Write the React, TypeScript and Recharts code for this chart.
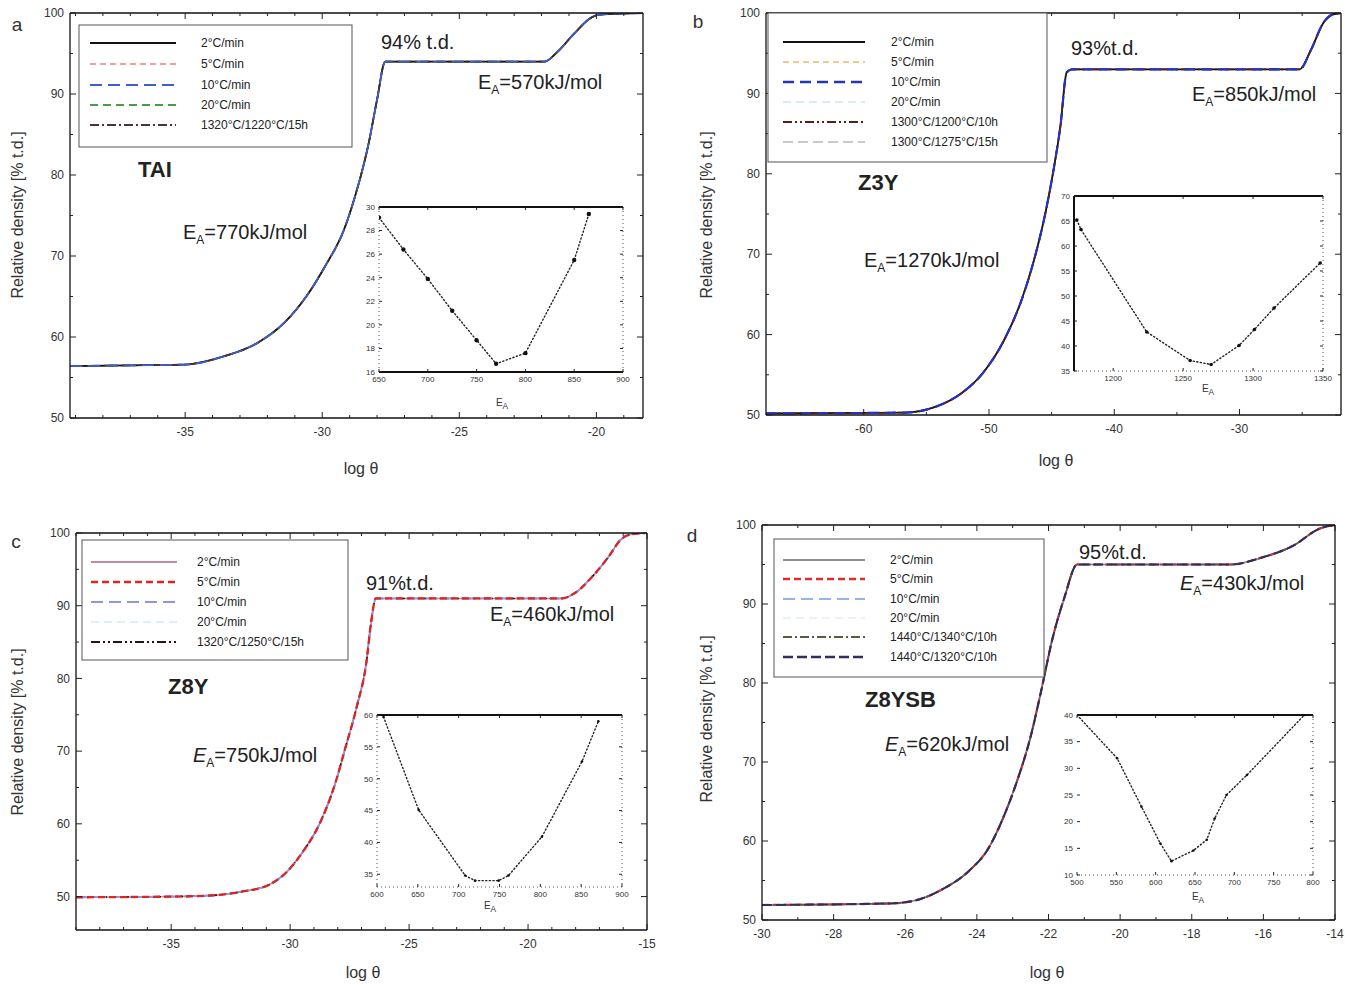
import React from "react";
import { LineChart, Line, XAxis, YAxis } from "recharts";

const FONT = '"Liberation Sans", Arial, Helvetica, sans-serif';

// ---- a: TAI master curve ----
const taiPlateau = 94;
const taiEa = [770, 570];
const taiLogTheta = [-39.2, -37, -35, -33.6, -32.35, -31.4, -30.5, -29.9, -29.2, -28.8, -28.3, -28.0, -27.7, -21.9, -21.45, -20.8, -20.2, -19.9, -18.3];
const taiDensity = [56.4, 56.5, 56.6, 57.6, 59.3, 61.7, 65.4, 68.7, 73.3, 77.4, 84, 89.3, taiPlateau, taiPlateau, 95.1, 97.5, 99.4, 99.8, 100];
const taiLegend = ["2°C/min", "5°C/min", "10°C/min", "20°C/min", "1320°C/1220°C/15h"];
const taiFitEa = [650, 675, 700, 725, 750, 770, 800, 850, 865];
const taiFitErr = [29.1, 26.4, 23.9, 21.2, 18.7, 16.7, 17.6, 25.5, 29.4];

// ---- b: Z3Y master curve ----
const z3yPlateau = 93;
const z3yEa = [1270, 850];
const z3yLogTheta = [-67.8, -56.7, -54.3, -52.2, -50.5, -48.8, -47.4, -46.4, -45.5, -44.8, -44.3, -43.8, -43.4, -25.2, -24.3, -23.3, -22.6, -21.9];
const z3yDensity = [50.2, 50.3, 51, 52.7, 55.2, 59.3, 64.3, 69.3, 75.1, 80.9, 85.9, 92.6, z3yPlateau, z3yPlateau, 95.4, 98.8, 99.8, 100];
const z3yLegend = ["2°C/min", "5°C/min", "10°C/min", "20°C/min", "1300°C/1200°C/10h", "1300°C/1275°C/15h"];
const z3yFitEa = [1174, 1177, 1224, 1255, 1270, 1290, 1301, 1315, 1348];
const z3yFitErr = [65.2, 63.3, 42.8, 37.1, 36.3, 40.1, 43.3, 47.6, 56.6];

// ---- c: Z8Y master curve ----
const z8yPlateau = 91;
const z8yEa = [750, 460];
const z8yLogTheta = [-39, -34.9, -33.1, -32, -30.9, -30.2, -29.5, -28.75, -28.1, -27.7, -27.2, -26.8, -26.6, -26.4, -18.6, -18.05, -17.3, -16.6, -16.1, -15.7, -15.07];
const z8yDensity = [49.9, 50, 50.2, 50.7, 51.6, 53.2, 56, 60.1, 65.6, 70.2, 76.1, 82.1, 87.6, z8yPlateau, z8yPlateau, 91.7, 94, 96.8, 99.1, 99.8, 100];
const z8yLegend = ["2°C/min", "5°C/min", "10°C/min", "20°C/min", "1320°C/1250°C/15h"];
const z8yFitEa = [608, 651, 708, 720, 749, 761, 802, 851, 871];
const z8yFitErr = [59.7, 45.1, 34.8, 34.0, 34.0, 34.8, 40.9, 52.7, 59.0];

// ---- d: Z8YSB master curve ----
const z8ysbPlateau = 95;
const z8ysbEa = [620, 430];
const z8ysbLogTheta = [-30, -26.4, -25.7, -25, -24.2, -23.7, -23.25, -22.9, -22.5, -22.2, -21.9, -21.55, -21.2, -16.9, -16.1, -15.2, -14.4, -14];
const z8ysbDensity = [51.9, 52.1, 52.5, 53.8, 56.3, 58.9, 63.1, 67.3, 73.2, 79.1, 85.4, 90.9, z8ysbPlateau, z8ysbPlateau, 95.8, 97.3, 99.6, 100];
const z8ysbLegend = ["2°C/min", "5°C/min", "10°C/min", "20°C/min", "1440°C/1340°C/10h", "1440°C/1320°C/10h"];
const z8ysbFitEa = [500, 551, 582, 606, 620, 648, 665, 675, 690, 716, 789];
const z8ysbFitErr = [40, 31.9, 22.8, 15.9, 12.6, 14.6, 16.6, 20.6, 25, 28.75, 40];

// ---- axis ticks ----
const densityMajor = [50, 60, 70, 80, 90, 100];
const densityTicks = [50, 55, 60, 65, 70, 75, 80, 85, 90, 95, 100];
const taiXMajor = [-35, -30, -25, -20];
const taiXTicks = [-39, -38, -37, -36, -35, -34, -33, -32, -31, -30, -29, -28, -27, -26, -25, -24, -23, -22, -21, -20, -19];
const z3yXMajor = [-60, -50, -40, -30];
const z3yXTicks = [-65, -60, -55, -50, -45, -40, -35, -30, -25];
const z8yXMajor = [-35, -30, -25, -20, -15];
const z8yXTicks = [-39, -38, -37, -36, -35, -34, -33, -32, -31, -30, -29, -28, -27, -26, -25, -24, -23, -22, -21, -20, -19, -18, -17, -16, -15];
const z8ysbXMajor = [-30, -28, -26, -24, -22, -20, -18, -16, -14];
const z8ysbXTicks = [-30, -29, -28, -27, -26, -25, -24, -23, -22, -21, -20, -19, -18, -17, -16, -15, -14];

const taiInsetX = [650, 700, 750, 800, 850, 900];
const taiInsetY = [16, 18, 20, 22, 24, 26, 28, 30];
const z3yInsetX = [1200, 1250, 1300, 1350];
const z3yInsetY = [35, 40, 45, 50, 55, 60, 65, 70];
const z8yInsetX = [600, 650, 700, 750, 800, 850, 900];
const z8yInsetY = [35, 40, 45, 50, 55, 60];
const z8ysbInsetX = [500, 550, 600, 650, 700, 750, 800];
const z8ysbInsetY = [10, 15, 20, 25, 30, 35, 40];

const toPoints = (xs: number[], ys: number[]) => xs.map((x, i) => ({ x, y: ys[i] }));

type Trace = { color: string; width: number; dash?: string };
type Box = { left: number; top: number; right: number; bottom: number };
type Edge = { stroke: string; width: number; dash?: string } | null;

const solid: Edge = { stroke: "#111", width: 1.3 };
const heavy: Edge = { stroke: "#111", width: 2 };
const dotted: Edge = { stroke: "#555", width: 1, dash: "1 3" };

const taiStyles: Trace[] = [
  { color: "#111111", width: 1.8 },
  { color: "#f0a0a0", width: 1.6, dash: "6 4" },
  { color: "#3f5fc8", width: 1.8, dash: "12 6" },
  { color: "#4d9a4d", width: 1.6, dash: "8 5" },
  { color: "#4a3434", width: 1.7, dash: "9 3 2 3" },
];
const z3yStyles: Trace[] = [
  { color: "#111111", width: 1.8 },
  { color: "#f3c88e", width: 1.5, dash: "6 4" },
  { color: "#2434c0", width: 2.2, dash: "11 6" },
  { color: "#cfe6f2", width: 1.4, dash: "8 5" },
  { color: "#5a1c1c", width: 1.8, dash: "9 3 2 3 2 3" },
  { color: "#b8b8b8", width: 1.4, dash: "10 5" },
];
const z8yStyles: Trace[] = [
  { color: "#c48aa8", width: 1.6 },
  { color: "#e02424", width: 2.3, dash: "7 4" },
  { color: "#8f95e0", width: 1.8, dash: "12 6" },
  { color: "#d4eaf2", width: 1.4, dash: "8 5" },
  { color: "#2a1212", width: 1.6, dash: "9 3 2 3 2 3" },
];
const z8ysbStyles: Trace[] = [
  { color: "#8e8e8e", width: 1.6 },
  { color: "#e02c2c", width: 2.2, dash: "7 4" },
  { color: "#94b4e4", width: 1.6, dash: "12 6" },
  { color: "#e2f0f0", width: 1.3, dash: "8 5" },
  { color: "#5e5a40", width: 1.6, dash: "9 3 2 3" },
  { color: "#2e2e62", width: 2, dash: "10 4" },
];

// stacking order of the overlapping rate curves (last one ends up on top)
const taiOrder = [1, 3, 0, 4, 2];
const z3yOrder = [3, 5, 1, 0, 4, 2];
const z8yOrder = [3, 0, 4, 2, 1];
const z8ysbOrder = [3, 2, 0, 1, 4, 5];

// inward tick with optional label; tickSize is 0 so the axis line sits `gap` away from the label anchor
function InTick(props: any) {
  const { x, y, payload, side, majors, len, fontSize, gap, label } = props;
  const v = payload?.value;
  const major = majors.some((m: number) => Math.abs(m - v) < 1e-6);
  const L = major ? len : len * 0.5;
  let line = null;
  let text = null;
  const ts = { fontSize, fontFamily: FONT, fill: "#333" };
  if (side === "bottom") {
    const ay = y - gap;
    line = <line x1={x} x2={x} y1={ay} y2={ay - L} />;
    if (label && major)
      text = <text x={x} y={y} dy="0.8em" textAnchor="middle" stroke="none" style={ts}>{v}</text>;
  } else if (side === "top") {
    const ay = y + gap;
    line = <line x1={x} x2={x} y1={ay} y2={ay + L} />;
  } else if (side === "left") {
    const ax = x + gap;
    line = <line x1={ax} x2={ax + L} y1={y} y2={y} />;
    if (label && major)
      text = <text x={x} y={y} dy="0.35em" textAnchor="end" stroke="none" style={ts}>{v}</text>;
  } else {
    const ax = x - gap;
    line = <line x1={ax} x2={ax - L} y1={y} y2={y} />;
  }
  return (
    <g>
      <g stroke="#222" strokeWidth={1}>{line}</g>
      {text}
    </g>
  );
}

type FrameProps = {
  box: Box;
  data: { x: number; y: number }[];
  xDomain: [number, number];
  yDomain: [number, number];
  xTicks: number[];
  yTicks: number[];
  xMajor: number[];
  yMajor: number[];
  fontSize: number;
  tickLen: number;
  padLeft: number;
  padBottom: number;
  gapX: number;
  gapY: number;
  edges: { top: Edge; right: Edge; bottom: Edge; left: Edge };
  children: React.ReactNode;
};

const axisLine = (e: Edge) =>
  e ? { stroke: e.stroke, strokeWidth: e.width, strokeDasharray: e.dash } : false;

const M_TOP = 10;
const M_RIGHT = 14;

function Frame(p: FrameProps) {
  const w = p.box.right - p.box.left;
  const h = p.box.bottom - p.box.top;
  const tick = (side: string, majors: number[], gap: number, label: boolean) => (
    <InTick side={side} majors={majors} len={p.tickLen} fontSize={p.fontSize} gap={gap} label={label} />
  );
  return (
    <div style={{ position: "absolute", left: p.box.left - p.padLeft - 2, top: p.box.top - M_TOP - 1 }}>
      <LineChart
        width={w + p.padLeft + 3 + M_RIGHT}
        height={h + p.padBottom + M_TOP + 3}
        data={p.data}
        margin={{ top: M_TOP, right: M_RIGHT, bottom: 2, left: 2 }}
      >
        <XAxis xAxisId="b" orientation="bottom" type="number" dataKey="x" domain={p.xDomain}
          allowDataOverflow ticks={p.xTicks} interval={0} height={p.padBottom} tickSize={0}
          tickMargin={p.gapX} tickLine={false} axisLine={axisLine(p.edges.bottom)}
          tick={tick("bottom", p.xMajor, p.gapX, true)} />
        <XAxis xAxisId="t" orientation="top" type="number" dataKey="x" domain={p.xDomain}
          allowDataOverflow ticks={p.xTicks} interval={0} height={1} tickSize={0}
          tickMargin={0} tickLine={false} axisLine={axisLine(p.edges.top)}
          tick={tick("top", p.xMajor, 0, false)} />
        <YAxis yAxisId="l" orientation="left" type="number" domain={p.yDomain}
          allowDataOverflow ticks={p.yTicks} interval={0} width={p.padLeft} tickSize={0}
          tickMargin={p.gapY} tickLine={false} axisLine={axisLine(p.edges.left)}
          tick={tick("left", p.yMajor, p.gapY, true)} />
        <YAxis yAxisId="r" orientation="right" type="number" domain={p.yDomain}
          allowDataOverflow ticks={p.yTicks} interval={0} width={1} tickSize={0}
          tickMargin={0} tickLine={false} axisLine={axisLine(p.edges.right)}
          tick={tick("right", p.yMajor, 0, false)} />
        {p.children}
      </LineChart>
    </div>
  );
}

type PanelSpec = {
  box: Box;
  data: { x: number; y: number }[];
  xDomain: [number, number];
  yDomain: [number, number];
  xTicks: number[];
  xMajor: number[];
  styles: Trace[];
  order: number[];
};

function MasterPanel({ spec }: { spec: PanelSpec }) {
  return (
    <Frame box={spec.box} data={spec.data} xDomain={spec.xDomain} yDomain={spec.yDomain}
      xTicks={spec.xTicks} yTicks={densityTicks} xMajor={spec.xMajor} yMajor={densityMajor}
      fontSize={12} tickLen={6} padLeft={40} padBottom={30} gapX={8} gapY={6}
      edges={{ top: solid, right: solid, bottom: solid, left: solid }}>
      {spec.order.map((i) => {
        const s = spec.styles[i];
        return (
          <Line key={i} xAxisId="b" yAxisId="l" dataKey="y" type="monotone" stroke={s.color}
            strokeWidth={s.width} strokeDasharray={s.dash} dot={false} activeDot={false}
            isAnimationActive={false} />
        );
      })}
    </Frame>
  );
}

type InsetSpec = {
  box: Box;
  data: { x: number; y: number }[];
  xDomain: [number, number];
  yDomain: [number, number];
  xTicks: number[];
  yTicks: number[];
  edges: { top: Edge; right: Edge; bottom: Edge; left: Edge };
  dotR: number;
};

function Inset({ spec }: { spec: InsetSpec }) {
  return (
    <Frame box={spec.box} data={spec.data} xDomain={spec.xDomain} yDomain={spec.yDomain}
      xTicks={spec.xTicks} yTicks={spec.yTicks} xMajor={spec.xTicks} yMajor={spec.yTicks}
      fontSize={8} tickLen={3} padLeft={18} padBottom={14} gapX={4} gapY={4} edges={spec.edges}>
      <Line xAxisId="b" yAxisId="l" dataKey="y" type="linear" stroke="#222" strokeWidth={1.4}
        strokeDasharray="1.2 2.4" strokeLinecap="round"
        dot={{ r: spec.dotR, fill: "#111", stroke: "none" }} activeDot={false}
        isAnimationActive={false} />
    </Frame>
  );
}

type LegendSpec = {
  box: Box;
  rows: number[];
  sample: [number, number];
  textX: number;
  names: string[];
  styles: Trace[];
};

function LegendBox({ spec }: { spec: LegendSpec }) {
  const { box } = spec;
  return (
    <svg style={{ position: "absolute", left: 0, top: 0, overflow: "visible" }} width={1} height={1}>
      <rect x={box.left} y={box.top} width={box.right - box.left} height={box.bottom - box.top}
        fill="#fff" stroke="#555" strokeWidth={1} />
      {spec.names.map((n, i) => {
        const s = spec.styles[i];
        const y = spec.rows[i];
        return (
          <g key={n + i}>
            <line x1={spec.sample[0]} x2={spec.sample[1]} y1={y} y2={y} stroke={s.color}
              strokeWidth={s.width + 0.3} strokeDasharray={s.dash} />
            <text x={spec.textX} y={y} dy="0.35em" style={{ fontSize: 12, fontFamily: FONT, fill: "#222" }}>
              {n}
            </text>
          </g>
        );
      })}
    </svg>
  );
}

function Note({ x, y, size = 20, bold = false, children }: {
  x: number; y: number; size?: number; bold?: boolean; children: React.ReactNode;
}) {
  return (
    <div style={{
      position: "absolute", left: x, top: y, transform: "translateY(-50%)", whiteSpace: "nowrap",
      fontFamily: FONT, fontSize: size, fontWeight: bold ? "bold" : "normal",
      color: "#222", lineHeight: 1,
    }}>
      {children}
    </div>
  );
}

function Centered({ x, y, rotate = 0, size = 16, children }: {
  x: number; y: number; rotate?: number; size?: number; children: React.ReactNode;
}) {
  return (
    <div style={{
      position: "absolute", left: x, top: y, whiteSpace: "nowrap", fontFamily: FONT,
      fontSize: size, color: "#333", lineHeight: 1,
      transform: `translate(-50%, -50%) rotate(${rotate}deg)`,
    }}>
      {children}
    </div>
  );
}

const Ea = ({ v, italic = false }: { v: number; italic?: boolean }) => (
  <span>
    <span style={{ fontStyle: italic ? "italic" : "normal" }}>E</span>
    <sub style={{ fontSize: "0.6em" }}>A</sub>={v}kJ/mol
  </span>
);

const panelA: PanelSpec = {
  box: { left: 70, top: 13, right: 643, bottom: 418 },
  data: toPoints(taiLogTheta, taiDensity), xDomain: [-39.2, -18.3], yDomain: [50, 100],
  xTicks: taiXTicks, xMajor: taiXMajor, styles: taiStyles, order: taiOrder,
};
const panelB: PanelSpec = {
  box: { left: 766, top: 13, right: 1341, bottom: 415 },
  data: toPoints(z3yLogTheta, z3yDensity), xDomain: [-67.8, -21.9], yDomain: [50, 100],
  xTicks: z3yXTicks, xMajor: z3yXMajor, styles: z3yStyles, order: z3yOrder,
};
const panelC: PanelSpec = {
  box: { left: 76, top: 533, right: 647, bottom: 930 },
  data: toPoints(z8yLogTheta, z8yDensity), xDomain: [-39, -15], yDomain: [45.4, 100],
  xTicks: z8yXTicks, xMajor: z8yXMajor, styles: z8yStyles, order: z8yOrder,
};
const panelD: PanelSpec = {
  box: { left: 762, top: 525, right: 1335, bottom: 920 },
  data: toPoints(z8ysbLogTheta, z8ysbDensity), xDomain: [-30, -14], yDomain: [50, 100],
  xTicks: z8ysbXTicks, xMajor: z8ysbXMajor, styles: z8ysbStyles, order: z8ysbOrder,
};

const insetA: InsetSpec = {
  box: { left: 379, top: 207, right: 623, bottom: 372 },
  data: toPoints(taiFitEa, taiFitErr), xDomain: [650, 900], yDomain: [16, 30],
  xTicks: taiInsetX, yTicks: taiInsetY, dotR: 2.2,
  edges: { top: heavy, bottom: heavy, left: dotted, right: dotted },
};
const insetB: InsetSpec = {
  box: { left: 1074, top: 196, right: 1323, bottom: 371 },
  data: toPoints(z3yFitEa, z3yFitErr), xDomain: [1172, 1350], yDomain: [35, 70],
  xTicks: z3yInsetX, yTicks: z3yInsetY, dotR: 1.8,
  edges: { top: heavy, bottom: dotted, left: heavy, right: dotted },
};
const insetC: InsetSpec = {
  box: { left: 377, top: 715, right: 622, bottom: 887 },
  data: toPoints(z8yFitEa, z8yFitErr), xDomain: [600, 900], yDomain: [33, 60],
  xTicks: z8yInsetX, yTicks: z8yInsetY, dotR: 1.3,
  edges: { top: heavy, bottom: dotted, left: dotted, right: dotted },
};
const insetD: InsetSpec = {
  box: { left: 1077, top: 715, right: 1313, bottom: 875 },
  data: toPoints(z8ysbFitEa, z8ysbFitErr), xDomain: [500, 800], yDomain: [10, 40],
  xTicks: z8ysbInsetX, yTicks: z8ysbInsetY, dotR: 1.3,
  edges: { top: heavy, bottom: dotted, left: null, right: dotted },
};

const legendA: LegendSpec = {
  box: { left: 79, top: 25, right: 352, bottom: 147 }, rows: [43, 64, 85, 105, 125],
  sample: [90, 176], textX: 201, names: taiLegend, styles: taiStyles,
};
const legendB: LegendSpec = {
  box: { left: 768, top: 13, right: 1047, bottom: 162 }, rows: [42, 62, 82, 102, 122, 142],
  sample: [783, 865], textX: 891, names: z3yLegend, styles: z3yStyles,
};
const legendC: LegendSpec = {
  box: { left: 82, top: 540, right: 348, bottom: 660 }, rows: [562, 582, 602, 622, 642],
  sample: [91, 177], textX: 197, names: z8yLegend, styles: z8yStyles,
};
const legendD: LegendSpec = {
  box: { left: 774, top: 539, right: 1044, bottom: 677 }, rows: [560, 579, 599, 618, 637, 657],
  sample: [783, 865], textX: 890, names: z8ysbLegend, styles: z8ysbStyles,
};

export default function App() {
  const yTitle = "Relative density [% t.d.]";
  return (
    <div style={{ position: "absolute", left: 0, top: 0, width: 1345, height: 985, overflow: "hidden", background: "#fff" }}>
      <MasterPanel spec={panelA} />
      <MasterPanel spec={panelB} />
      <MasterPanel spec={panelC} />
      <MasterPanel spec={panelD} />

      <LegendBox spec={legendA} />
      <LegendBox spec={legendB} />
      <LegendBox spec={legendC} />
      <LegendBox spec={legendD} />

      <Inset spec={insetA} />
      <Inset spec={insetB} />
      <Inset spec={insetC} />
      <Inset spec={insetD} />

      {/* panel letters */}
      <Centered x={17} y={24} size={19}>a</Centered>
      <Centered x={698} y={21} size={19}>b</Centered>
      <Centered x={16} y={541} size={19}>c</Centered>
      <Centered x={692} y={535} size={19}>d</Centered>

      {/* axis titles */}
      <Centered x={18} y={215} rotate={-90}>{yTitle}</Centered>
      <Centered x={707} y={215} rotate={-90}>{yTitle}</Centered>
      <Centered x={18} y={732} rotate={-90}>{yTitle}</Centered>
      <Centered x={707} y={719} rotate={-90}>{yTitle}</Centered>
      <Centered x={361} y={469}>log θ</Centered>
      <Centered x={1056} y={461}>log θ</Centered>
      <Centered x={363} y={973}>log θ</Centered>
      <Centered x={1047} y={973}>log θ</Centered>

      {/* inset axis titles */}
      <Centered x={502} y={404} size={10}>E<sub>A</sub></Centered>
      <Centered x={1208} y={390} size={10}>E<sub>A</sub></Centered>
      <Centered x={490} y={907} size={10}>E<sub>A</sub></Centered>
      <Centered x={1198} y={898} size={10}>E<sub>A</sub></Centered>

      {/* a */}
      <Note x={381} y={42}>{taiPlateau}% t.d.</Note>
      <Note x={478} y={84}><Ea v={taiEa[1]} /></Note>
      <Note x={138} y={170} size={22} bold>TAI</Note>
      <Note x={183} y={234}><Ea v={taiEa[0]} /></Note>

      {/* b */}
      <Note x={1071} y={48}>{z3yPlateau}%t.d.</Note>
      <Note x={1192} y={96}><Ea v={z3yEa[1]} /></Note>
      <Note x={858} y={183} size={22} bold>Z3Y</Note>
      <Note x={864} y={262}><Ea v={z3yEa[0]} /></Note>

      {/* c */}
      <Note x={366} y={583}>{z8yPlateau}%t.d.</Note>
      <Note x={490} y={616}><Ea v={z8yEa[1]} /></Note>
      <Note x={168} y={687} size={22} bold>Z8Y</Note>
      <Note x={193} y={757}><Ea v={z8yEa[0]} italic /></Note>

      {/* d */}
      <Note x={1079} y={552}>{z8ysbPlateau}%t.d.</Note>
      <Note x={1180} y={585}><Ea v={z8ysbEa[1]} italic /></Note>
      <Note x={865} y={700} size={22} bold>Z8YSB</Note>
      <Note x={885} y={746}><Ea v={z8ysbEa[0]} italic /></Note>
    </div>
  );
}
